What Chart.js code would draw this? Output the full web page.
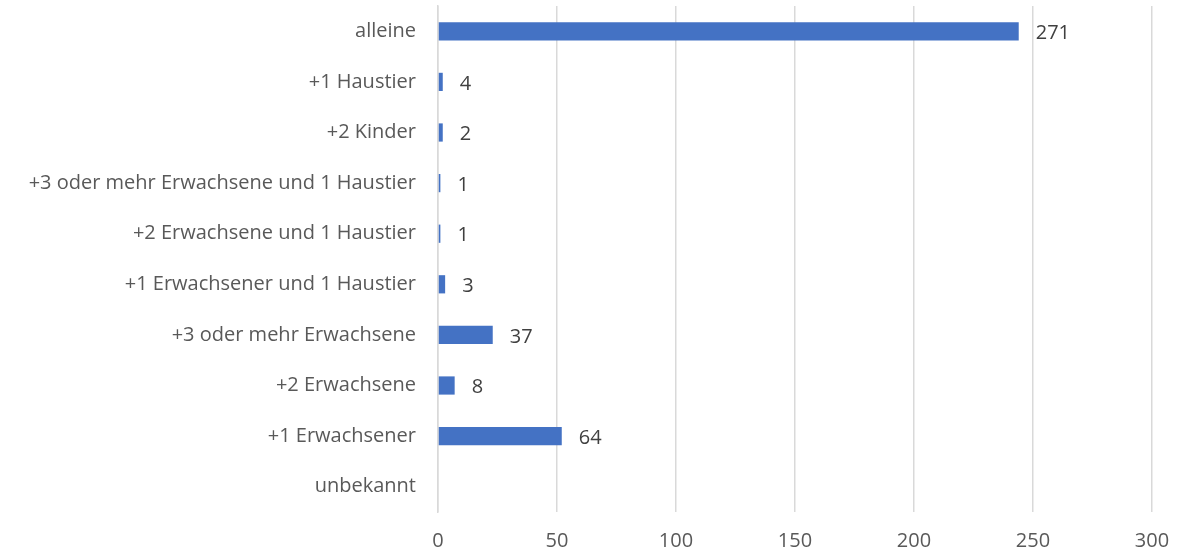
<!DOCTYPE html>
<html>
<head>
<meta charset="utf-8">
<script src="https://cdn.jsdelivr.net/npm/chart.js@4/dist/chart.umd.min.js"></script>
<style>
  html, body { margin: 0; padding: 0; background: #fff; }
  #wrap { width: 1179px; height: 559px; }
</style>
</head>
<body>
<div id="wrap"><canvas id="chart"></canvas></div>
<script>
var categories = [
    "alleine",
    "+1 Haustier",
    "+2 Kinder",
    "+3 oder mehr Erwachsene und 1 Haustier",
    "+2 Erwachsene und 1 Haustier",
    "+1 Erwachsener und 1 Haustier",
    "+3 oder mehr Erwachsene",
    "+2 Erwachsene",
    "+1 Erwachsener",
    "unbekannt"
];
// bar lengths as drawn in the picture
var barValues = [244, 2, 2, 1, 1, 3, 23, 7, 52, 0];
// numbers printed next to the bars
var valueLabels = ["271", "4", "2", "1", "1", "3", "37", "8", "64", "0"];
var xTicks = [0, 50, 100, 150, 200, 250, 300];

var textColor = "#595959";
var fontFamily = "'Open Sans', 'Liberation Sans', sans-serif";
var fontSize = 20;

var barLabels = {
    id: 'barLabels',
    afterDatasetsDraw: function (chart) {
        var ctx = chart.ctx;
        var meta = chart.getDatasetMeta(0);
        ctx.save();
        ctx.font = fontSize + "px " + fontFamily;
        ctx.textBaseline = "middle";
        ctx.textAlign = "left";
        meta.data.forEach(function (bar, i) {
            // last label is white in the original (only shows as a gap in the grid)
            ctx.fillStyle = i === categories.length - 1 ? "#ffffff" : "#404040";
            ctx.fillText(valueLabels[i], bar.x + 17, bar.y + 2);
        });
        ctx.restore();
    }
};

var ctx = document.getElementById("chart").getContext("2d");
new Chart(ctx, {
    type: 'bar',
    data: {
        labels: categories,
        datasets: [{
            data: barValues,
            backgroundColor: "#4472c4",
            borderWidth: 0,
            barPercentage: 0.72,
            categoryPercentage: 0.5
        }]
    },
    options: {
        indexAxis: 'y',
        responsive: true,
        maintainAspectRatio: false,
        animation: false,
        layout: { padding: { top: 6, right: 27, bottom: 6, left: 0 } },
        plugins: {
            legend: { display: false },
            tooltip: { enabled: false }
        },
        scales: {
            x: {
                min: 0,
                max: 300,
                afterBuildTicks: function (scale) {
                    scale.ticks = xTicks.map(function (v) { return { value: v }; });
                },
                afterFit: function (scale) {
                    scale.height = 41;
                    scale.paddingLeft = 0;
                    scale.paddingRight = 0;
                },
                grid: { color: "#d9d9d9", lineWidth: 1.5, drawTicks: false },
                border: { display: false },
                ticks: {
                    color: textColor,
                    padding: 17,
                    font: { family: fontFamily, size: fontSize }
                }
            },
            y: {
                grid: { display: false },
                border: { display: true, color: "#d9d9d9", width: 1.5 },
                afterFit: function (scale) {
                    scale.width = 438;
                    scale.paddingTop = 0;
                    scale.paddingBottom = 0;
                },
                ticks: {
                    color: textColor,
                    padding: 14,
                    font: { family: fontFamily, size: fontSize }
                }
            }
        }
    },
    plugins: [barLabels]
});
</script>
</body>
</html>
